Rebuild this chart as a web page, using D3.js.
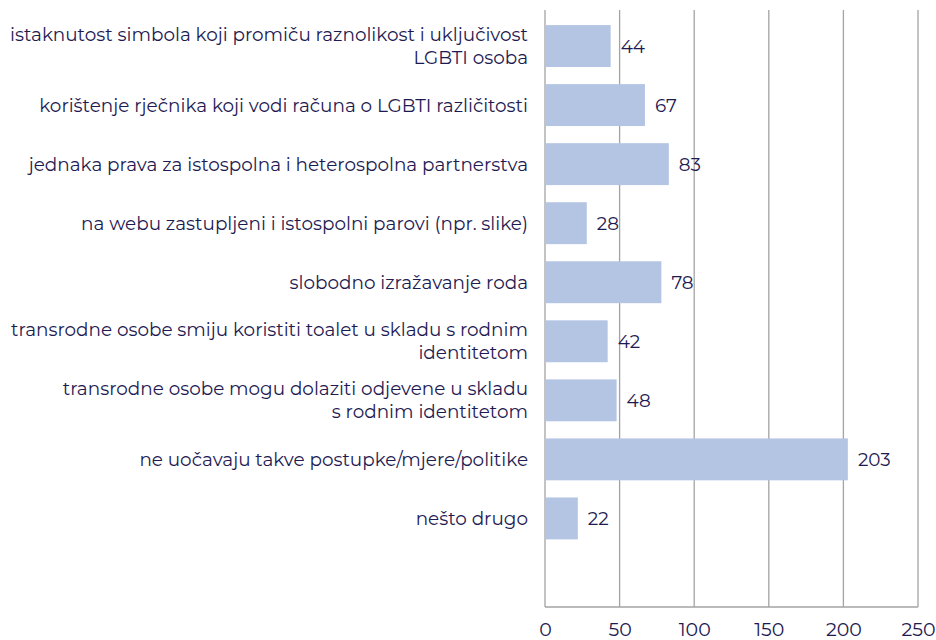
<!DOCTYPE html>
<html>
<head>
<meta charset="utf-8">
<script src="https://cdn.jsdelivr.net/npm/d3@7"></script>
<style>
  html, body { margin: 0; padding: 0; background: #fff; }
  svg { display: block; }
  text { font-family: "Montserrat", "Lato", "Noto Sans", sans-serif; fill: #1e1a52; }
</style>
</head>
<body>
<svg id="chart" width="936" height="640"></svg>
<script>
// Categories (each entry is the list of wrapped lines for that label)
const categories = [
  ["istaknutost simbola koji promiču raznolikost i uključivost", "LGBTI osoba"],
  ["korištenje rječnika koji vodi računa o LGBTI različitosti"],
  ["jednaka prava za istospolna i heterospolna partnerstva"],
  ["na webu zastupljeni i istospolni parovi (npr. slike)"],
  ["slobodno izražavanje roda"],
  ["transrodne osobe smiju koristiti toalet u skladu s rodnim", "identitetom"],
  ["transrodne osobe mogu dolaziti odjevene u skladu", "s rodnim identitetom"],
  ["ne uočavaju takve postupke/mjere/politike"],
  ["nešto drugo"]
];
const values = [44, 67, 83, 28, 78, 42, 48, 203, 22];
const xTicks = [0, 50, 100, 150, 200, 250];

const svg = d3.select("#chart");
const plotLeft = 545, plotRight = 918;
const gridTop = 10, plotTop = 16.5, plotBottom = 607;
const textFont = '"Montserrat", "Lato", "Noto Sans", sans-serif';

const x = d3.scaleLinear().domain([0, 250]).range([plotLeft, plotRight]);

// one extra empty slot below the last category
const slots = d3.range(categories.length + 1);
const y = d3.scaleBand().domain(slots).range([plotTop, plotBottom]).paddingInner(0.29).paddingOuter(0.145);

// vertical gridlines (including the value axis at 0)
svg.append("g")
  .selectAll("line")
  .data(xTicks)
  .join("line")
  .attr("x1", d => x(d)).attr("x2", d => x(d))
  .attr("y1", gridTop).attr("y2", plotBottom)
  .attr("stroke", "#a3a3a3")
  .attr("stroke-width", 1.3);

// bottom baseline
svg.append("line")
  .attr("x1", x(0)).attr("x2", x(250))
  .attr("y1", plotBottom).attr("y2", plotBottom)
  .attr("stroke", "#a3a3a3")
  .attr("stroke-width", 1.3);

// bars
svg.append("g")
  .selectAll("rect")
  .data(values)
  .join("rect")
  .attr("x", x(0) + 1)
  .attr("y", (d, i) => y(i))
  .attr("width", d => x(d) - x(0) - 1)
  .attr("height", y.bandwidth())
  .attr("fill", "#b4c5e4");

// value labels
svg.append("g")
  .selectAll("text")
  .data(values)
  .join("text")
  .attr("x", d => x(d) + 10)
  .attr("y", (d, i) => y(i) + y.bandwidth() / 2)
  .attr("dy", "0.36em")
  .attr("font-size", 18.4)
  .text(d => d);

// category labels
const lineH = 23;
const labels = svg.append("g")
  .selectAll("text")
  .data(categories)
  .join("text")
  .attr("text-anchor", "end")
  .attr("font-size", 18.4)
  .attr("y", (d, i) => y(i) + y.bandwidth() / 2 - (d.length - 1) * lineH / 2);
labels.each(function(lines) {
  const t = d3.select(this);
  const y0 = +t.attr("y");
  lines.forEach((ln, k) => {
    t.append("tspan").attr("x", 528).attr("y", y0 + k * lineH).attr("dy", "0.36em").text(ln);
  });
});

// x tick labels
const axis = d3.axisBottom(x).tickValues(xTicks).tickSize(0).tickPadding(16);
const gAxis = svg.append("g").attr("transform", `translate(0,${plotBottom})`).call(axis);
gAxis.select(".domain").remove();
gAxis.selectAll("text")
  .attr("font-size", 19)
  .style("font-family", textFont)
  .attr("fill", "#1e1a52");
</script>
</body>
</html>
